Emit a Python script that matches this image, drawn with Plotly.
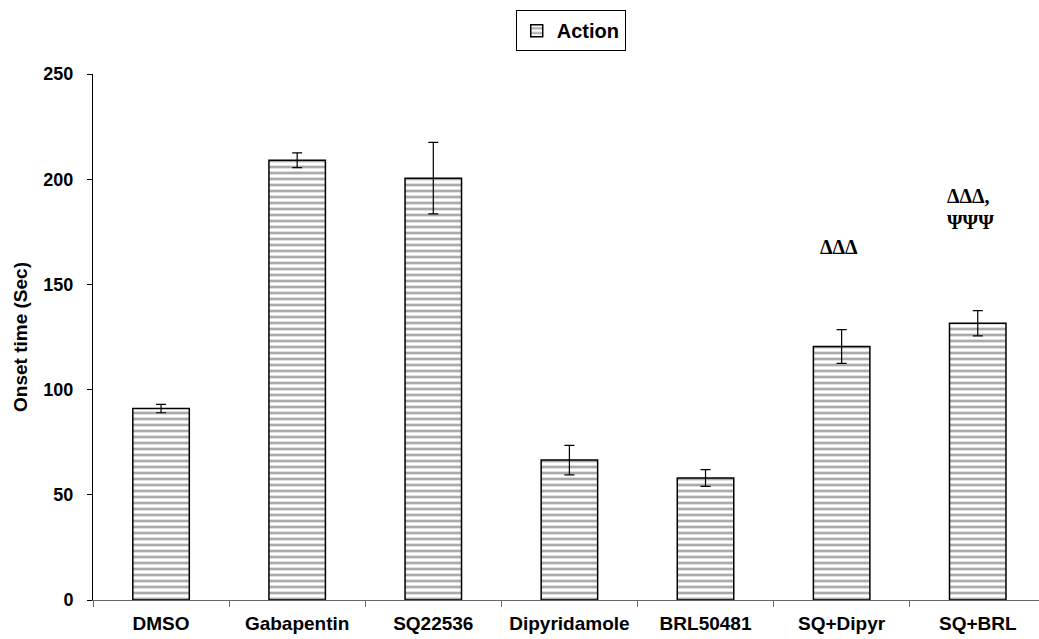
import plotly.graph_objects as go

# Onset time per treatment group
groups = ["DMSO", "Gabapentin", "SQ22536", "Dipyridamole", "BRL50481", "SQ+Dipyr", "SQ+BRL"]
onset_mean = [91, 209, 200.5, 66.5, 58, 120.5, 131.5]
onset_sem = [2, 3.5, 17, 7, 4, 8, 6]

# Significance marks placed above selected bars
sig_groups = ["SQ+Dipyr", "SQ+BRL"]
sig_text = ["<b>ΔΔΔ</b>", "<b>ΔΔΔ,<br>ΨΨΨ</b>"]
sig_y = [168, 186]
sig_shift = [-3, -7]

fig = go.Figure()
fig.add_trace(go.Bar(
    x=groups,
    y=onset_mean,
    name="Action",
    width=0.415,
    marker=dict(
        color="white",
        line=dict(color="black", width=1.5),
        pattern=dict(shape="-", fgcolor="#555555", bgcolor="white", size=6, solidity=0.45),
    ),
    error_y=dict(type="data", array=onset_sem, visible=True, color="black", thickness=1.2, width=5),
    showlegend=True,
))

for g, t, yv, dx in zip(sig_groups, sig_text, sig_y, sig_shift):
    fig.add_annotation(
        x=g, y=yv, text=t, showarrow=False, align="left", xshift=dx,
        font=dict(family="Liberation Serif", size=20, color="black"),
        xanchor="center", yanchor="middle",
    )

fig.update_layout(
    width=1039, height=639,
    margin=dict(l=93, r=0, t=74, b=39),
    plot_bgcolor="white", paper_bgcolor="white",
    font=dict(family="Liberation Sans", size=18, color="black"),
    legend=dict(
        orientation="h", x=0.505, y=0.952, xanchor="center", yanchor="middle",
        yref="container", bordercolor="black", borderwidth=1,
        font=dict(family="Liberation Sans", size=20, color="black", weight="bold"),
        itemwidth=30,
    ),
    xaxis=dict(
        range=[-0.5, 6.45], showline=True, linecolor="#666666", linewidth=1,
        ticks="outside", tickson="boundaries", ticklen=6, tickcolor="#666666",
        tickfont=dict(size=19, weight="bold"), showgrid=False, ticklabelstandoff=6,
    ),
    yaxis=dict(
        range=[0, 250], tickvals=[0, 50, 100, 150, 200, 250],
        showline=True, linecolor="black", linewidth=1,
        ticks="outside", ticklen=5, tickcolor="black", showgrid=False, zeroline=False,
        tickfont=dict(size=18, weight="bold"), ticklabelstandoff=10,
        title=dict(text="Onset time (Sec)", font=dict(size=19, weight="bold"), standoff=10),
    ),
)

fig.write_html("out.html")
